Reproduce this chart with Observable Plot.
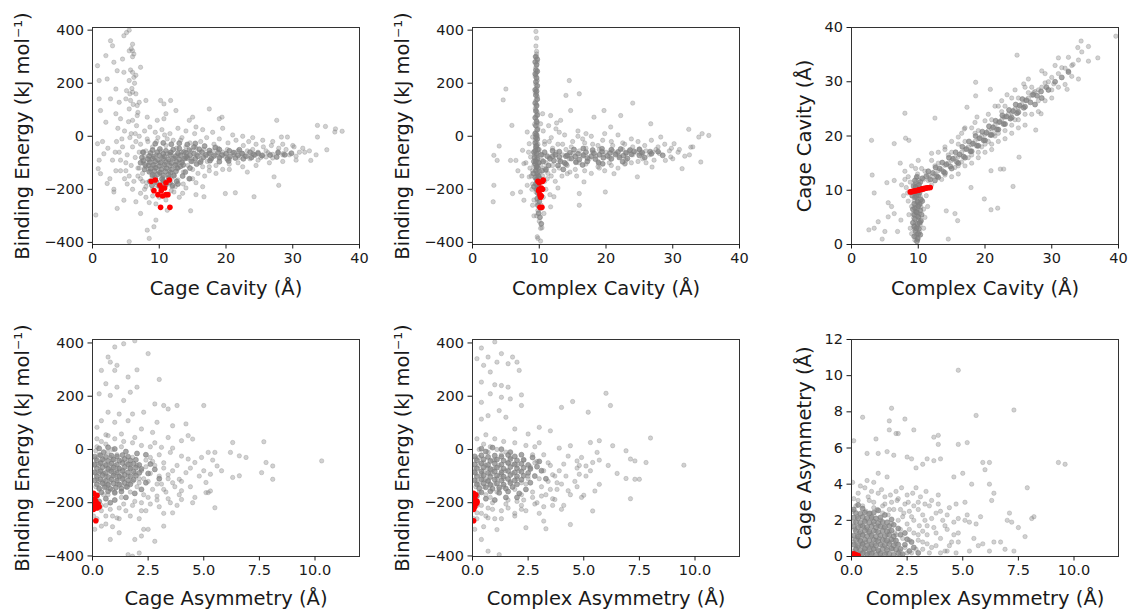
<!DOCTYPE html>
<html>
<head>
<meta charset="utf-8">
<script src="https://cdn.jsdelivr.net/npm/d3@7"></script>
<script src="https://cdn.jsdelivr.net/npm/@observablehq/plot@0.6"></script>
<style>
  body { margin: 0; background: #fff; }
  #root { position: relative; width: 1129px; height: 610px; overflow: hidden; background: #fff; }
  #root svg { position: absolute; overflow: visible; }
</style>
</head>
<body>
<div id="root"></div>
<script>
// ---------- axis labels & ticks ----------
const energyLabel = "Binding Energy (kJ mol⁻¹)";
const cageCavityLabel = "Cage Cavity (Å)";
const complexCavityLabel = "Complex Cavity (Å)";
const cageAsymLabel = "Cage Asymmetry (Å)";
const complexAsymLabel = "Complex Asymmetry (Å)";
const energyTicks = [-400, -200, 0, 200, 400];
const cavityTicks = [0, 10, 20, 30, 40];
const asymTicks = [0, 2.5, 5, 7.5, 10];
const cageAsymTicks = [0, 2, 4, 6, 8, 10, 12];

// ---------- panel 1: cage cavity (x) vs binding energy (y) ----------
const cageCavityVsEnergy = [
[5.1,391],[5.5,400],[4.7,379],[2.7,360],[3.0,341],[6.0,347],[5.5,322],[6.0,322],[6.2,310],[2.0,304],[0.75,266],[7.2,260],[4.7,241],[6.0,241],[6.2,222],[5.5,210],[1.0,210],[2.2,216],[3.5,178],[5.1,172],[6.0,166],[6.5,160],[3.7,247],[3.2,279],[4.5,291],[1.0,141],[2.7,141],[5.0,141],[5.7,135],[4.0,128],[7.0,128],[8.0,135],[10.2,135],[11.7,135],[10.7,122],[12.5,97],[11.0,85],[6.7,116],[5.5,103],[3.5,85],[4.2,66],[6.0,60],[6.7,78],[8.2,72],[9.7,60],[10.7,66],[2.0,53],[1.2,97],[17.5,103],[19.4,72],[19.0,66],[15.0,72],[14.5,60],[27.6,60],[33.7,41],[34.9,37],[36.4,28],[37.4,19],[36.3,16],[33.7,-3],[35.1,-51],[32.7,-91],[29.2,-3],[28.3,-3],[0.75,-28],[1.7,-66],[0.85,-122],[1.2,-141],[0.5,-297],[2.2,-178],[3.2,-210],[3.7,-272],[4.7,-241],[6.5,-247],[7.2,-291],[8.2,-354],[8.5,-385],[5.5,-397],[9.2,-341],[9.5,-316],[11.2,-279],[14.7,-281],[16.7,-228],[19.9,-216],[21.4,-213],[24.2,-228],[27.9,-185],[27.2,-153],[23.2,-135],
[8.2,-10],[9.6,-20],[10.8,5],[12.1,-15],[13.4,-5],[14.6,-25],[15.3,10],[16.2,-20],[17.1,-5],[18.2,-30],[19.0,-10],[20.3,-25],[21.5,-15],[22.6,-35],[23.4,-20],[24.5,-30],[25.6,-40],[26.8,-35],[27.9,-45],[29.0,-50],[30.2,-40],[31.0,-60],[28.5,-70],[26.0,-55],[24.0,-50],
[9.0,-40],[10.2,-55],[11.0,-35],[11.8,-60],[12.6,-45],[13.3,-60],[14.0,-40],[14.8,-55],[15.5,-45],[16.0,-60],[16.7,-50],[17.4,-65],[18.0,-55],[18.8,-45],[19.5,-60],[20.2,-50],[21.0,-60],[21.8,-55],[22.5,-65],[23.2,-55],[24.0,-65],[24.8,-60],[25.5,-70],[26.3,-62],[27.0,-68],[27.8,-58],[28.6,-65],[29.5,-70],[30.5,-75],[31.8,-60],
[9.5,-70],[10.4,-80],[11.2,-65],[12.0,-85],[12.8,-70],[13.5,-90],[14.2,-75],[14.9,-85],[15.6,-70],[16.3,-90],[17.0,-75],[17.7,-85],[18.4,-70],[19.1,-80],[19.8,-75],[20.5,-85],[21.2,-70],[22.0,-80],[22.8,-75],[23.6,-85],[24.4,-72],[25.2,-80],[26.0,-78],[27.0,-82],[15.0,-95],[16.0,-100],[17.2,-95],[13.0,-100],[11.5,-95],[10.0,-100],[8.5,-90],[7.8,-75],[9.0,-110],
[8.0,-115],[8.7,-130],[9.4,-120],[10.1,-140],[10.8,-115],[11.5,-130],[12.2,-145],[12.9,-120],[13.6,-135],[14.3,-110],[15.0,-125],[15.8,-140],[16.5,-115],[17.5,-130],[18.5,-110],[19.5,-125],[20.5,-105],[9.2,-145],[10.5,-155],[11.8,-160],[12.5,-105],[7.5,-140],[7.0,-120],
[7.2,-160],[8.1,-175],[8.9,-150],[9.6,-185],[10.7,-170],[11.9,-190],[12.8,-165],[13.6,-180],[14.6,-160],[15.5,-175],[16.5,-190],[7.8,-200],[9.0,-200],[12.2,-210],[10.0,-230],[11.0,-240],[8.5,-250],[13.5,-215],[15.5,-220],[9.5,-255],
[1.5,-20],[2.3,-45],[3.0,-90],[3.5,-130],[4.0,-60],[4.4,-10],[5.0,-100],[5.5,-150],[6.0,-40],[6.4,-80],[6.8,-120],[7.2,-30],[7.5,-60],[4.8,20],[5.8,10],[3.8,30],[2.6,-160],[1.0,-90],[6.2,-170],[5.2,-180],[3.2,-200],[7.0,0],[7.6,-100],[8.0,-55],[8.3,-20],[6.6,40],[5.4,55],[4.2,-130],
[5.8,330],[6.0,300],[5.7,250],[6.3,200],[5.9,180],[6.5,230],[5.6,160],[6.1,120],[6.8,90]
];
const cageCavityVsEnergyHalo = [
[4.5,-40],[5.2,-70],[5.8,-110],[6.5,-20],[7.0,-60],[6.8,-150],[7.5,-170],[8.0,-190],[6.0,-200],[5.0,-130],[4.2,-90],[3.6,-20],[5.6,-5],[6.4,10],[7.8,20],[8.6,35],[9.4,15],[10.4,25],[11.6,10],[12.8,30],[14.0,20],[15.5,35],[16.5,25],[18.0,15],[19.5,30],[21.0,5],[22.5,0],[24.0,-5],[25.5,-15],[27.0,-20],[28.5,-30],[30.0,-35],[31.5,-45],[32.5,-55],[33.5,-70],[30.5,-90],[28.5,-95],[26.5,-100],[24.5,-110],[22.5,-115],[20.5,-125],[18.5,-140],[16.8,-150],[15.0,-160],[14.0,-195],[13.0,-230],[11.8,-205],[9.0,-225],[8.0,-230],[7.2,-215],[10.4,-180],[12.4,-190],[17.5,-115],[21.8,-100],[24.8,-90],[13.2,-15],[11.2,-10],[9.8,-5],[4.8,-160],[3.4,-60]
];
const cageCavityVsEnergyCore = [
[9.0,-52],[10.1,-48],[11.0,-55],[12.1,-50],[13.0,-46],
[8.7,-63],[9.7,-60],[10.6,-66],[11.7,-61],[12.8,-64],[13.7,-59],
[8.5,-74],[9.2,-77],[10.0,-72],[10.8,-76],[11.6,-70],[12.4,-75],[13.2,-72],[14.0,-78],
[8.3,-86],[9.0,-84],[9.8,-89],[10.6,-85],[11.4,-88],[12.2,-83],[13.0,-87],[13.8,-84],
[8.6,-98],[9.4,-95],[10.2,-100],[11.0,-97],[11.8,-101],[12.6,-96],[13.4,-99],
[8.4,-110],[9.2,-108],[10.0,-112],[10.8,-107],[11.6,-111],[12.4,-109],[13.2,-113],
[8.7,-122],[9.5,-119],[10.3,-124],[11.1,-121],[11.9,-125],[12.7,-120],
[8.5,-134],[9.3,-131],[10.1,-136],[10.9,-133],[11.7,-137],[12.5,-132],
[9.0,-146],[9.8,-143],[10.6,-148],[11.4,-145],[12.2,-149],
[9.4,-158],[10.4,-161],[11.4,-157],
[14.5,-52],[16.0,-49],[17.5,-54],[19.0,-50],[20.5,-55],[22.0,-51],
[14.0,-62],[15.2,-65],[16.4,-60],[17.6,-64],[18.8,-61],[20.0,-66],[21.2,-62],[22.4,-65],[23.6,-60],[24.8,-64],
[14.6,-72],[15.8,-75],[17.0,-70],[18.2,-74],[19.4,-71],[20.6,-76],[21.8,-72],[23.0,-75],[24.2,-70],[25.4,-73],[26.6,-71],
[14.2,-82],[15.4,-85],[16.6,-80],[17.8,-84],[19.0,-81],[20.2,-86],[21.4,-82],[22.6,-85],[23.8,-80],
[14.8,-94],[16.2,-97],[17.6,-92],[19.0,-96],[20.4,-93],
[15.2,-40],[16.8,-37],[18.4,-42],[13.6,-108],[14.6,-120],[15.6,-105],[13.9,-135],[7.6,-92],[7.9,-108],
[8.6,-170],[9.6,-173],[10.6,-168],[11.6,-175],[12.6,-170],[8.9,-185],[10.0,-188],[11.0,-183],[12.0,-186],[9.4,-28],[10.6,-25],[11.8,-30],[13.0,-26],[14.2,-31],[15.4,-27],[7.4,-80],[7.2,-100],[7.8,-125],[7.6,-60],[27.8,-62],[28.8,-70],[29.8,-64],[27.6,-78],[13.5,-150],[14.5,-160],[12.8,-180]
];
const cageCavityVsEnergySelected = [
[8.8,-170],[9.4,-165],[9.2,-205],[10.1,-185],[10.4,-195],[10.8,-195],[9.8,-220],[10.5,-225],[11.0,-220],[11.3,-220],[11.0,-175],[11.5,-165],[10.2,-268],[11.6,-268],[10.3,-205]
];

// ---------- panel 2: complex cavity (x) vs binding energy (y) ----------
const complexCavityVsEnergy = [
[9.5,395],[9.6,370],[9.5,340],[9.6,320],[9.4,300],[9.7,280],[9.5,260],[9.6,240],[9.4,225],[9.7,210],[9.5,195],[9.6,180],[9.4,165],[9.7,150],[9.5,135],[9.6,120],[9.4,105],[9.7,90],[9.5,75],[9.6,60],[9.3,45],[9.8,30],[9.5,15],[9.7,0],[9.4,-15],[9.8,-30],[9.5,-45],[9.9,-60],[9.6,-75],[9.4,-90],[10.0,-100],[9.7,-110],[9.5,-125],[10.1,-135],[9.8,-145],[9.6,-160],[10.2,-175],[9.9,-190],[9.5,-210],[10.0,-230],[9.7,-250],[10.3,-260],[9.8,-280],[9.6,-300],[10.0,-320],[10.4,-345],[9.8,-385],[10.2,-395],[9.6,-150],[9.7,-200],
[9.6,310],[9.5,230],[9.6,160],[9.5,100],[9.7,50],[9.6,-20],[9.8,-80],[9.6,-120],[10.2,-110],[10.4,-90],[10.0,-50],[9.3,-70],[9.2,-110],[9.0,-130],[8.8,-150],[9.0,-180],[9.2,-240],[10.5,-150],[10.8,-170],[11.0,-130],
[3.2,-72],[3.7,-91],[4.0,-37],[5.0,178],[4.6,137],[5.9,41],[5.7,-91],[6.5,-91],[3.2,-185],[3.1,-247],[7.5,-53],[7.7,-103],[8.2,16],[8.2,-185],[7.2,-210],[7.7,-241],[6.0,-216],[9.0,-3],[8.5,-28],[8.7,-78],[8.5,-153],
[14.5,210],[16.0,160],[14.7,97],[14.0,154],[19.7,97],[22.2,78],[24.0,125],[18.2,72],[20.7,35],[13.2,60],[11.7,78],[10.5,85],[10.2,47],[12.5,28],[26.7,47],[28.2,-3],[32.7,-41],[33.9,-3],[35.4,3],[34.4,10],[32.4,26],[30.2,-28],[29.7,-78],[31.4,-122],[34.2,-97],[28.9,-91],[24.7,-153],[21.2,-141],[19.9,-210],[16.0,-216],[16.0,-260],[11.7,-266],[12.2,-228],[10.7,-291],[10.2,-347],[9.7,-379],[14.2,-141],[16.7,-172],[22.9,-103],[26.9,-116],[25.2,-66],
[10.5,-70],[11.0,-100],[11.5,-80],[12.0,-110],[12.5,-60],[13.0,-90],[13.5,-70],[14.0,-50],[14.5,-85],[15.0,-65],[15.5,-95],[16.0,-55],[16.5,-75],[17.0,-45],[17.5,-85],[18.0,-60],[18.5,-75],[19.0,-50],[19.5,-70],[20.0,-60],[20.5,-80],[21.0,-55],[21.5,-65],[22.0,-75],[22.5,-50],[23.0,-65],[23.5,-55],[24.0,-70],[24.5,-60],[25.0,-50],[25.5,-65],[26.0,-55],[26.5,-70],[27.0,-60],[27.5,-50],[28.0,-65],[10.8,-120],[11.3,-140],[12.2,-130],[11.8,-150],[13.0,-120],[14.2,-110],[15.4,-125],[17.0,-105],[18.8,-95],[20.5,-100],[13.5,-30],[15.0,-20],[16.5,-10],[18.0,-30],[19.5,-15],[21.0,-35],[22.5,-25],[24.0,-40],[17.0,10],[15.8,0],[13.0,15],[11.5,-20],[12.0,-45],[16.0,-100],[19.0,-120],[23.0,-90],[25.5,-85],[29.5,-55],[31.0,-50],[32.5,-70],[30.0,-85]
];
const complexCavityVsEnergyHalo = [
[10.8,-20],[11.8,-5],[12.8,-30],[13.8,5],[14.8,-40],[15.8,20],[16.8,-25],[17.8,0],[18.8,-35],[19.8,10],[20.8,-20],[21.8,5],[22.8,-30],[23.8,-10],[24.8,-20],[25.8,-35],[26.8,-15],[27.8,-40],[28.8,-30],[29.8,-45],[30.8,-60],[31.8,-75],[33.0,-40],[11.2,-160],[12.4,-170],[13.4,-150],[14.6,-135],[15.6,-150],[16.8,-130],[17.8,-140],[18.8,-115],[19.8,-130],[20.8,-110],[21.8,-120],[22.8,-105],[23.8,-100],[24.8,-95],[26.0,-100],[27.2,-90],[11.0,-200],[11.6,-220],[12.8,-195],[8.6,-120],[8.4,-60],[8.0,-100],[7.4,-150],[6.8,-130],[8.9,-200],[9.0,-260],[9.2,-300],[10.6,-230],[10.8,-30],[10.6,20],[11.4,40],[12.6,50]
];
const complexCavityVsEnergyCore = [
[9.5,300],[9.7,290],[9.4,280],[9.6,270],[9.5,250],[9.7,245],[9.4,235],[9.6,220],[9.5,205],[9.7,190],[9.4,175],[9.6,170],[9.5,155],[9.7,140],[9.4,125],[9.6,115],[9.5,95],[9.7,80],[9.4,70],[9.6,55],[9.5,40],[9.7,25],[9.4,10],[9.6,5],[9.5,-5],[9.7,-10],[9.4,-25],[9.6,-35],[9.5,-40],[9.8,-50],[9.4,-55],[9.6,-65],[9.3,-80],[9.7,-85],[9.5,-95],[9.9,-100],[9.4,-105],[9.6,-115],[9.8,-120],[9.5,-130],[9.7,-140],[9.9,-150],[9.4,-155],[9.6,-165],[10.1,-160],[9.8,-170],[9.5,-180],[9.7,-185],[10.0,-195],[9.6,-200],[9.8,-215],[10.1,-220],[9.7,-235],[10.0,-245],[9.8,-260],[10.2,-270],[9.9,-290],[10.1,-305],[10.3,-330],
[10.8,-60],[11.6,-85],[12.4,-70],[13.2,-95],[14.0,-75],[10.6,-95],[11.4,-110],[12.2,-92],[13.0,-78],[13.8,-100],
[14.6,-62],[15.8,-66],[17.0,-60],[18.2,-64],[19.4,-58],[20.6,-63],[21.8,-59],[23.0,-62],[24.2,-57],[25.4,-61],[26.6,-58],
[14.2,-72],[15.4,-76],[16.6,-71],[17.8,-75],[19.0,-70],[20.2,-74],[21.4,-69],[22.6,-73],[23.8,-68],[25.0,-72],
[14.8,-84],[16.0,-88],[17.2,-82],[18.4,-86],[19.6,-81],[20.8,-85],[22.0,-80],[23.2,-84],
[15.2,-50],[16.6,-46],[18.0,-52],[19.4,-47],[20.8,-51],[22.2,-48],[23.6,-52],[25.0,-49],
[15.5,-98],[17.2,-95],[18.9,-100],[11.2,-75],[12.0,-55],[12.8,-110],[13.6,-125],[11.0,-125],
[9.2,-60],[9.2,-95],[9.1,-140],[9.2,-190],[10.3,-70],[10.4,-130],[14.0,-105],[16.5,-108],[19.5,-104],[22.5,-96],[25.8,-80],[26.8,-66],[27.8,-58],[28.5,-72],[12.0,-75],[13.0,-58]
];
const complexCavityVsEnergySelected = [
[9.8,-170],[10.6,-165],[10.5,-170],[10.0,-200],[10.3,-195],[10.5,-200],[10.1,-220],[10.3,-225],[10.2,-230],[10.1,-268],[10.4,-268],[9.9,-205],[10.0,-175]
];

// ---------- panel 3: complex cavity (x) vs cage cavity (y) ----------
const complexVsCageCavity = [
[3.0,19.2],[8.0,24.2],[12.5,23.3],[8.1,19.6],[6.4,18.6],[8.6,19.2],[7.3,15.0],[3.1,12.8],[3.4,9.5],[5.3,11.4],[6.4,11.8],[5.5,7.7],[6.0,7.0],[6.4,5.7],[5.5,5.1],[4.0,4.2],[2.6,2.7],[3.4,3.0],[4.6,1.0],[5.0,2.4],[6.9,2.4],[7.4,4.5],[14.5,1.0],[15.5,5.7],[15.9,4.4],[14.2,6.2],[19.9,8.4],[20.9,6.4],[21.9,6.7],[24.2,10.7],[17.9,10.5],[20.9,13.6],[22.3,13.9],[22.8,13.9],[25.1,16.1],[27.6,21.1],[18.6,27.4],[18.6,29.9],[24.8,34.9],[31.5,32.6],[33.9,36.3],[34.4,37.5],[35.5,33.8],[36.9,34.4],[39.6,38.4],[34.0,30.5],[32.3,28.6],[32.5,32.0],[33.2,33.2],[31.0,34.4],[30.3,29.6],[28.4,24.1],[27.3,28.0],[25.8,29.6],[23.3,27.6],[20.8,28.6],[22.8,23.5],[21.3,20.4],[18.8,23.5],[16.9,21.3],[17.3,25.3],
[9.5,0.8],[10.0,1.2],[9.7,1.8],[10.2,2.3],[9.4,2.8],[9.9,3.2],[10.3,3.6],[9.6,4.0],[10.0,4.5],[9.3,4.9],[9.8,5.3],[10.2,5.7],[9.5,6.1],[9.9,6.5],[10.4,6.9],[9.6,7.3],[10.0,7.7],[9.4,8.1],[9.8,8.5],[10.3,8.9],[9.6,9.3],[10.0,9.7],[9.5,10.1],[10.2,10.5],[9.8,10.9],[9.6,11.4],[10.1,11.8],[9.7,12.3],[9.9,13.0],[9.6,14.0],[10.0,15.5],[9.4,3.5],[9.8,2.0],[10.1,5.0],[9.7,6.8],[9.9,8.0],[10.4,4.2],[9.2,5.6],[9.6,1.4],[10.3,7.6],[9.9,9.9],[9.5,11.0],[8.8,11.5],[8.5,12.5],[8.2,10.5],[7.8,9.0],[8.5,8.0],[9.0,7.0],[10.8,12.0],[11.2,9.0],[10.8,6.5],[11.5,12.8],[8.0,12.0],[7.5,11.0],
[11.5,11.8],[12.0,12.5],[12.5,13.0],[13.0,13.6],[13.5,13.8],[14.0,14.6],[14.5,15.0],[15.0,15.5],[15.5,16.0],[16.0,16.2],[16.5,17.0],[17.0,17.5],[17.5,18.0],[18.0,18.4],[18.5,19.0],[19.0,19.5],[19.5,20.0],[20.0,20.3],[20.5,21.0],[21.0,21.3],[21.5,22.0],[22.0,22.5],[22.5,23.0],[23.0,23.5],[23.5,24.0],[24.0,24.3],[24.5,25.0],[25.0,25.2],[25.5,25.8],[26.0,26.5],[26.5,27.0],[27.0,27.5],[27.5,28.2],[28.0,28.5],[28.5,29.0],[29.0,29.8],[29.5,30.0],[30.0,30.8],[31.0,31.5],[32.0,32.5],[33.0,33.0],[34.0,34.0],
[13.0,15.0],[14.0,12.8],[15.0,17.0],[16.0,14.5],[17.0,19.0],[18.0,16.5],[19.0,21.0],[20.0,18.5],[21.0,23.0],[22.0,20.5],[23.0,25.5],[24.0,22.0],[25.0,27.0],[26.0,24.0],[27.0,29.0],[28.0,26.5],[29.0,31.5],[30.0,28.5],[12.5,14.5],[14.5,16.5],[16.5,15.2],[18.5,20.5],[20.5,19.0],[22.5,24.5],[24.5,23.0],[26.5,28.0],[15.5,14.2],[17.5,16.0],[19.5,18.0],[21.5,20.0],[11.0,13.5],[12.0,11.0],[13.5,12.0],[16.0,18.5],[18.0,21.5],[20.0,22.8],[22.0,25.5],[24.0,27.0],[26.0,29.0],[15.0,19.0],[17.0,21.5],[19.0,17.0],[21.0,18.5],[23.0,21.0],[25.0,23.0]
];
const complexVsCageCavityHalo = [
[8.6,5.5],[8.8,3.0],[8.4,9.5],[9.0,2.0],[10.8,3.0],[11.0,5.0],[10.9,10.2],[11.4,7.0],[8.0,13.5],[9.0,14.5],[10.5,14.0],[12.0,15.5],[13.0,17.0],[14.0,18.0],[15.0,12.5],[16.0,13.0],[17.0,14.5],[18.0,15.0],[19.0,16.0],[20.0,17.0],[21.0,17.5],[22.0,19.0],[23.0,19.5],[24.0,20.5],[25.0,21.5],[26.0,22.0],[27.0,24.0],[28.0,24.5],[29.0,26.5],[30.0,27.0],[31.0,29.0],[32.0,29.5],[33.0,31.0],[14.0,17.5],[16.5,20.5],[18.5,22.5],[20.5,24.0],[22.5,26.5],[24.5,28.5],[26.5,30.5],[28.5,32.0],[30.5,33.0],[32.5,34.5],[34.5,35.5],[35.5,36.5],[16.0,19.8],[12.0,16.8],[21.5,25.5]
];
const complexVsCageCavityCore = [
[9.4,1.5],[9.9,1.0],[10.3,1.8],[9.6,2.5],[10.1,2.9],[9.4,3.3],[9.9,3.8],[10.4,4.4],[9.5,4.7],[10.0,5.1],[9.4,5.5],[9.8,5.9],[10.3,6.3],[9.5,6.7],[10.0,7.1],[9.4,7.5],[9.9,7.9],[10.4,8.3],[9.5,8.7],[10.0,9.1],[9.4,9.5],[9.9,9.9],[10.4,10.2],[9.6,10.6],[10.1,11.0],[9.5,11.8],[10.3,11.5],[9.8,12.5],[10.6,12.2],[9.7,3.0],[10.2,4.0],[9.7,6.0],[10.2,7.4],[9.7,8.9],[10.2,9.6],[9.3,10.8],[9.1,9.0],[9.2,6.5],[9.2,4.0],[10.5,5.5],[10.6,8.0],[9.8,0.6],[10.0,2.0],
[11.2,12.6],[11.8,12.0],[12.2,13.2],[12.8,12.6],[13.2,14.0],[13.8,13.4],[14.2,14.8],[14.8,14.4],[15.2,15.8],[15.8,15.2],[16.2,16.6],[16.8,16.2],[17.2,17.6],[17.8,17.2],[18.2,18.6],[18.8,18.2],[19.2,19.6],[19.8,19.2],[20.2,20.6],[20.8,20.2],[21.2,21.6],[21.8,21.2],[22.2,22.6],[22.8,22.2],[23.2,23.6],[23.8,23.2],[24.2,24.6],[24.8,24.2],[25.2,25.6],[25.8,25.2],[26.2,26.6],[26.8,26.2],[27.2,27.6],[27.8,27.4],[28.4,28.2],[29.2,29.0],
[12.6,14.2],[13.6,15.1],[14.6,16.0],[15.6,17.0],[16.6,18.0],[17.6,19.0],[18.6,20.0],[19.6,20.8],[20.6,21.8],[21.6,22.8],[22.6,23.8],[23.6,24.8],[24.6,25.8],[25.6,26.8],
[13.0,12.4],[14.0,13.2],[15.0,14.0],[16.0,15.0],[17.0,16.0],[18.0,17.2],[19.0,18.2],[20.0,19.2],[21.0,20.2],[22.0,21.2],[23.0,22.2],[24.0,23.4],[25.0,24.4],[26.0,25.4],
[11.5,13.5],[12.5,11.8],[27.5,25.8],[28.5,27.0],[29.5,28.5],[30.5,30.0],[31.5,30.8],[32.5,31.8]
];
const complexVsCageCavitySelected = [
[8.8,9.7],[9.0,9.75],[9.2,9.8],[9.4,9.85],[9.6,9.9],[9.8,9.95],[9.9,10.0],[10.1,10.05],[10.2,10.1],[10.4,10.15],[10.5,10.2],[10.7,10.25],[10.8,10.3],[11.0,10.35],[11.2,10.4],[11.4,10.45],[11.6,10.45],[11.8,10.5]
];

// ---------- panel 4: cage asymmetry (x) vs binding energy (y) ----------
const cageAsymVsEnergy = [
[1.4,397],[1.0,385],[1.9,408],[2.5,360],[0.7,347],[0.8,328],[1.1,316],[1.0,297],[2.0,299],[0.4,297],[3.0,263],[1.6,272],[0.6,247],[1.1,234],[2.0,234],[0.3,209],[0.8,203],[1.7,215],[1.4,184],[2.8,171],[3.2,165],[3.8,165],[5.0,165],[0.7,140],[1.2,133],[1.8,133],[2.3,140],[3.4,152],[0.4,108],[1.0,102],[1.6,108],[2.2,77],[2.9,102],[3.6,89],[4.2,96],[0.2,83],[0.7,52],[1.3,58],[1.9,45],[2.7,64],[3.4,45],[4.0,33],[4.3,52],[4.5,39],[5.2,-11],[5.5,-11],[6.2,-11],[6.3,26],[6.6,-24],[6.9,-30],[7.7,29],[7.8,-49],[8.1,-62],[8.1,-112],[7.6,-87],[6.6,-99],[6.3,-105],[5.8,-80],[5.6,-62],[5.3,-93],[5.1,-124],[5.2,-162],[5.3,-156],[5.1,-162],[5.5,-219],[4.5,-200],[4.0,-188],[3.6,-238],[3.2,-288],[2.8,-345],[2.5,-300],[2.3,-300],[2.2,-325],[1.9,-338],[1.6,-395],[2.1,-389],[1.8,-401],[1.2,-313],[0.8,-338],[0.4,-288],[1.1,-257],[10.3,-43],[3.9,-112],[4.2,-87],[4.6,-49],[4.9,-30],[4.3,-36],[3.5,-11],[3.1,8],
[0.1,-60],[0.2,-110],[0.3,-20],[0.3,-150],[0.4,-80],[0.5,-40],[0.5,-130],[0.6,-100],[0.6,-60],[0.7,-10],[0.7,-170],[0.8,-80],[0.8,-120],[0.9,-40],[0.9,-150],[1.0,-90],[1.0,-60],[1.1,-20],[1.1,-130],[1.2,-100],[1.2,-70],[1.3,-180],[1.3,-40],[1.4,-110],[1.4,-80],[1.5,-140],[1.5,-50],[1.6,-100],[1.7,-70],[1.7,-160],[1.8,-120],[1.8,-30],[1.9,-90],[2.0,-140],[2.0,-60],[2.1,-110],[2.2,-80],[2.3,-170],[2.4,-40],[2.5,-120],[2.6,-90],[2.7,-150],[2.8,-60],[2.9,-190],[3.0,-100],[3.1,-130],[3.2,-70],[3.3,-160],[3.4,-110],[3.5,-200],[3.6,-80],[3.7,-140],[3.8,-60],[3.9,-170],[4.0,-120],[0.2,-200],[0.4,-230],[0.6,-210],[0.9,-250],[1.2,-220],[1.5,-230],[1.8,-210],[2.1,-260],[2.4,-230],[0.1,-170],[0.2,10],[0.4,30],[0.6,20],[0.9,0],[1.3,10],[0.3,-90],[0.5,-170],[0.7,-130],[0.8,-30],[1.0,-160],[0.4,-50],[0.6,-140],[1.1,-110],[0.5,-90],[0.7,-70],[0.9,-100],[1.1,-80],[0.3,-120],[0.8,-60],[1.3,-130],[1.6,-130],[2.2,-200],[2.6,-30],[2.9,-130],[3.2,-240],[0.05,-250],[0.1,-300],[0.6,-280],[0.9,-290]
];
const cageAsymVsEnergyHalo = [
[2.6,10],[3.0,-20],[3.2,-50],[3.4,-95],[3.6,-125],[3.2,-150],[2.9,-175],[2.6,-205],[2.2,-230],[1.7,-250],[1.2,-260],[0.6,-250],[0.2,-260],[0.2,40],[0.6,55],[1.0,40],[1.4,30],[1.8,25],[2.2,15],[2.8,25],[3.6,5],[4.0,-25],[4.4,-70],[4.8,-100],[4.4,-140],[4.0,-155],[3.8,-210],[3.0,-215],[2.5,-180],[2.3,-110],[2.7,-45],[1.9,-195],[1.4,-205],[0.8,-225],[0.4,-210],[3.4,-185],[4.6,-180],[5.0,-80],[5.4,-40],[0.3,-60],[0.5,-115],[0.9,-75],[1.3,-95],[1.7,-55],[2.1,-125],[2.4,-65],[0.15,-140],[0.15,-90],[0.15,-35],[0.15,-5]
];
const cageAsymVsEnergyCore = [
[0.1,-27],[0.35,-22],[0.6,-28],[0.85,-23],[1.1,-26],[1.35,-21],[1.6,-27],
[0.2,-41],[0.45,-37],[0.7,-43],[0.95,-38],[1.2,-42],[1.45,-36],[1.7,-41],[1.95,-39],
[0.1,-56],[0.35,-52],[0.6,-58],[0.85,-53],[1.1,-57],[1.35,-51],[1.6,-56],[1.85,-54],[2.1,-58],
[0.2,-71],[0.45,-67],[0.7,-73],[0.95,-68],[1.2,-72],[1.45,-66],[1.7,-71],[1.95,-69],[2.2,-73],
[0.1,-86],[0.35,-82],[0.6,-88],[0.85,-83],[1.1,-87],[1.35,-81],[1.6,-86],[1.85,-84],[2.1,-88],
[0.2,-101],[0.45,-97],[0.7,-103],[0.95,-98],[1.2,-102],[1.45,-96],[1.7,-101],[1.95,-99],
[0.1,-116],[0.35,-112],[0.6,-118],[0.85,-113],[1.1,-117],[1.35,-111],[1.6,-116],[1.85,-114],
[0.2,-131],[0.45,-127],[0.7,-133],[0.95,-128],[1.2,-132],[1.45,-126],[1.7,-131],
[0.3,-146],[0.55,-142],[0.8,-148],[1.05,-143],[1.3,-147],[1.55,-141],
[0.4,-161],[0.7,-157],[1.0,-163],[1.3,-158],
[0.3,4],[0.7,8],[1.0,2],
[2.4,-20],[2.6,-55],[2.5,-90],[2.4,-125],[2.2,-150],[1.9,-165],[0.2,-175],[0.6,-185],[1.0,-190],[1.5,-180],[0.5,-10],[1.5,-8],[2.0,-15],[2.8,-75],[3.0,-110],[0.3,-195],[0.8,-200]
];
const cageAsymVsEnergySelected = [
[0.05,-165],[0.2,-172],[0.1,-185],[0.15,-195],[0.05,-200],[0.25,-205],[0.1,-215],[0.2,-220],[0.3,-215],[0.05,-225],[0.15,-268]
];

// ---------- panel 5: complex asymmetry (x) vs binding energy (y) ----------
const complexAsymVsEnergy = [
[0.4,381],[0.2,341],[0.5,316],[0.7,347],[1.0,404],[1.3,360],[1.8,347],[1.6,322],[2.0,328],[2.1,297],[1.1,328],[0.8,291],[0.4,253],[1.0,243],[1.3,240],[1.6,234],[0.8,209],[0.4,177],[1.3,196],[1.7,190],[2.2,205],[2.2,165],[1.2,146],[1.5,121],[0.7,127],[0.4,114],[4.0,158],[4.5,180],[6.0,211],[6.2,165],[5.2,140],[3.0,83],[3.5,70],[2.5,58],[1.9,77],[8.0,43],[6.9,-5],[7.3,-43],[7.1,-36],[7.8,-49],[9.5,-59],[7.5,-112],[7.3,-112],[6.9,-109],[7.1,-185],[5.7,-131],[5.5,-156],[5.4,-231],[5.0,-172],[4.8,-93],[5.1,-62],[5.4,-49],[4.9,-30],[4.7,-43],[4.1,-55],[4.4,14],[5.3,26],[5.7,33],[6.3,14],[5.6,-11],[4.4,-282],[4.0,-225],[3.7,-188],[3.2,-269],[3.3,-298],[2.4,-294],[2.2,-225],[1.1,-301],[0.7,-257],[0.7,-382],[1.2,-395],[0.2,-238],[0.4,-338],
[0.1,-70],[0.2,-120],[0.3,-30],[0.3,-160],[0.4,-90],[0.5,-50],[0.5,-140],[0.6,-110],[0.7,-70],[0.7,-10],[0.8,-180],[0.9,-90],[1.0,-130],[1.0,-40],[1.1,-160],[1.2,-100],[1.2,-60],[1.3,-20],[1.4,-140],[1.4,-110],[1.5,-80],[1.6,-190],[1.6,-50],[1.7,-120],[1.8,-90],[1.9,-150],[2.0,-60],[2.0,-110],[2.1,-80],[2.2,-170],[2.3,-40],[2.4,-130],[2.5,-100],[2.6,-70],[2.7,-160],[2.8,-50],[2.9,-200],[3.0,-110],[3.1,-140],[3.2,-80],[3.3,-170],[3.4,-120],[3.5,-60],[3.6,-210],[3.7,-100],[3.8,-150],[3.9,-80],[4.0,-130],[4.2,-100],[4.4,-170],[4.6,-120],[4.8,-60],[0.2,-210],[0.4,-240],[0.7,-220],[1.0,-260],[1.3,-230],[1.6,-220],[1.9,-240],[2.2,-210],[0.1,-180],[0.3,0],[0.5,20],[0.8,10],[1.1,0],[1.5,-10],[0.4,-100],[0.6,-170],[0.8,-130],[0.9,-40],[1.1,-110],[0.5,-80],[0.7,-120],[1.2,-150],[0.6,-60],[0.8,-90],[1.0,-70],[1.3,-80],[0.3,-130],[0.9,-200],[1.7,-30],[2.3,-190],[2.7,-20],[3.0,-240],[0.05,-260],[0.1,-300],[0.5,-290]
];
const complexAsymVsEnergyHalo = [
[2.8,10],[3.2,-20],[3.4,-50],[3.6,-95],[3.8,-125],[3.5,-150],[3.1,-175],[2.8,-205],[2.4,-230],[1.9,-250],[1.3,-260],[0.6,-250],[0.2,-260],[0.2,40],[0.6,55],[1.0,40],[1.4,30],[1.9,25],[2.4,15],[3.0,25],[3.9,5],[4.3,-25],[4.7,-70],[5.1,-100],[4.7,-140],[4.3,-155],[4.1,-210],[3.2,-215],[2.7,-180],[2.5,-110],[2.9,-45],[2.0,-195],[1.5,-205],[0.9,-225],[0.4,-210],[3.6,-185],[4.9,-180],[5.3,-80],[5.7,-40],[0.3,-60],[0.5,-115],[0.9,-75],[1.3,-95],[1.8,-55],[2.2,-125],[2.6,-65],[0.15,-140],[0.15,-90],[0.15,-35],[6.1,-60],[6.5,-90]
];
const complexAsymVsEnergyCore = [
[0.1,-26],[0.4,-22],[0.7,-28],[1.0,-23],[1.3,-27],[1.6,-21],[1.9,-26],
[0.2,-41],[0.5,-37],[0.8,-43],[1.1,-38],[1.4,-42],[1.7,-36],[2.0,-41],[2.3,-39],
[0.1,-56],[0.4,-52],[0.7,-58],[1.0,-53],[1.3,-57],[1.6,-51],[1.9,-56],[2.2,-54],[2.5,-58],
[0.2,-71],[0.5,-67],[0.8,-73],[1.1,-68],[1.4,-72],[1.7,-66],[2.0,-71],[2.3,-69],[2.6,-73],
[0.1,-86],[0.4,-82],[0.7,-88],[1.0,-83],[1.3,-87],[1.6,-81],[1.9,-86],[2.2,-84],[2.5,-88],
[0.2,-101],[0.5,-97],[0.8,-103],[1.1,-98],[1.4,-102],[1.7,-96],[2.0,-101],[2.3,-99],
[0.1,-116],[0.4,-112],[0.7,-118],[1.0,-113],[1.3,-117],[1.6,-111],[1.9,-116],[2.2,-114],
[0.2,-131],[0.5,-127],[0.8,-133],[1.1,-128],[1.4,-132],[1.7,-126],[2.0,-131],
[0.3,-146],[0.6,-142],[0.9,-148],[1.2,-143],[1.5,-147],[1.8,-141],
[0.4,-161],[0.8,-157],[1.2,-163],[1.6,-158],
[0.4,3],[0.9,7],[1.3,1],
[2.7,-30],[2.9,-65],[2.8,-100],[2.6,-125],[2.4,-150],[2.1,-165],[0.2,-175],[0.6,-185],[1.0,-190],[1.5,-180],[0.6,-8],[1.7,-10],[2.2,-20],[3.1,-80],[3.3,-110],[3.0,-45],[2.0,-180]
];
const complexAsymVsEnergySelected = [
[0.05,-165],[0.15,-170],[0.1,-185],[0.2,-195],[0.05,-200],[0.15,-205],[0.1,-215],[0.05,-225],[0.2,-200],[0.05,-268],[0.1,-175]
];

// ---------- panel 6: complex asymmetry (x) vs cage asymmetry (y) ----------
const complexVsCageAsym = [
[4.8,10.3],[0.5,7.7],[1.8,8.2],[1.7,7.5],[1.7,7.0],[2.4,7.6],[2.0,6.8],[2.1,6.8],[2.8,7.0],[5.6,7.8],[4.8,6.2],[5.2,6.3],[7.3,8.1],[3.7,6.6],[3.9,6.7],[3.9,6.2],[1.1,6.5],[0.1,6.4],[0.7,5.7],[1.2,5.7],[1.6,5.8],[1.9,5.6],[2.5,5.5],[2.7,5.4],[3.4,5.4],[3.7,5.3],[4.0,5.4],[3.2,5.1],[2.9,4.9],[5.9,5.2],[6.2,5.2],[6.0,4.8],[4.6,4.4],[5.0,4.6],[6.2,4.0],[5.4,4.0],[6.4,3.5],[6.3,3.1],[7.9,3.8],[9.3,5.2],[9.6,5.1],[7.1,2.4],[7.0,2.0],[7.5,1.6],[7.2,1.9],[8.1,2.1],[8.2,2.2],[7.8,1.1],[7.3,0.3],[6.9,0.4],[6.7,0.8],[6.4,0.8],[5.9,0.7],[5.7,0.6],[5.5,1.0],[5.3,1.9],[5.1,2.0],[4.7,2.9],[5.1,3.0],[4.8,1.3],[4.8,0.8],[4.3,0.3],[4.7,0.2],[5.6,1.8],[5.8,2.2],[5.2,2.3],[6.2,0.3],[5.3,0.3],
[0.05,0.3],[0.1,0.8],[0.15,1.5],[0.2,0.4],[0.25,2.2],[0.3,1.0],[0.35,0.2],[0.4,1.7],[0.45,0.6],[0.5,2.8],[0.5,1.2],[0.55,0.3],[0.6,2.0],[0.65,0.8],[0.7,1.5],[0.75,3.3],[0.8,0.5],[0.85,2.4],[0.9,1.1],[0.95,0.2],[1.0,1.8],[1.0,3.0],[1.05,0.7],[1.1,1.4],[1.15,2.6],[1.2,0.3],[1.25,1.0],[1.3,2.0],[1.35,3.7],[1.4,0.6],[1.45,1.6],[1.5,2.9],[1.55,0.2],[1.6,1.2],[1.65,2.3],[1.7,0.8],[1.75,3.4],[1.8,1.8],[1.85,0.4],[1.9,2.6],[1.95,1.3],[2.0,0.7],[2.05,3.1],[2.1,2.0],[2.15,0.3],[2.2,1.5],[2.25,3.8],[2.3,1.0],[2.35,2.4],[2.4,0.5],[2.5,1.8],[2.55,3.0],[2.6,0.9],[2.7,2.2],[2.75,3.5],[2.8,1.3],[2.9,0.4],[3.0,2.6],[3.05,1.7],[3.1,3.3],[3.2,0.8],[3.3,2.0],[3.35,3.6],[3.4,1.2],[3.5,2.8],[3.6,0.5],[3.7,1.6],[3.8,2.4],[3.9,3.4],[4.0,1.0],[4.1,2.0],[4.2,0.3],[4.3,1.5],[4.4,2.7],[4.5,0.8],[4.6,1.9],
[0.1,0.1],[0.2,0.6],[0.3,0.5],[0.4,0.9],[0.15,0.2],[0.25,1.1],[0.35,1.3],[0.45,0.1],[0.6,0.4],[0.7,0.1],[0.8,1.3],[0.9,0.6],[0.55,1.6],[0.65,2.5],[0.2,2.8],[0.1,1.9],[0.3,3.1],[0.05,4.1],[0.4,3.9],[0.7,4.2],[1.0,4.1],[1.2,4.6],[1.6,4.4],[1.1,0.9],[1.3,0.1],[1.5,0.9],[1.7,1.4],[1.9,0.9],[0.9,2.1],[1.2,1.7],[0.8,0.2],[1.4,2.4],[1.6,0.5],[2.0,1.2],[2.2,2.6],[2.5,0.2],[2.8,2.8],[3.0,0.9],[3.2,1.4],[3.5,0.2],[0.05,2.5],[0.0,1.0],[0.0,0.2],[0.5,0.7],[1.0,0.4]
];
const complexVsCageAsymHalo = [
[2.6,1.5],[2.8,2.0],[3.0,1.2],[3.2,2.3],[3.4,1.7],[3.6,2.1],[3.8,1.3],[4.0,2.5],[4.2,1.7],[4.4,0.6],[4.6,1.2],[4.8,2.1],[3.0,3.0],[3.3,2.9],[3.6,3.1],[2.6,2.5],[2.4,2.9],[2.1,3.2],[1.8,3.0],[1.5,3.3],[1.2,3.5],[0.9,3.6],[0.6,3.8],[0.3,3.5],[0.1,3.2],[2.0,3.6],[2.5,3.4],[2.9,3.8],[3.2,0.4],[3.4,0.7],[3.8,0.6],[4.0,0.2],[2.2,0.1],[2.7,0.2],[3.9,2.9],[4.3,2.3],[1.0,2.7],[1.4,2.8],[1.7,2.6],[2.3,2.2],[0.8,3.1]
];
const complexVsCageAsymCore = [
[0.1,0.15],[0.3,0.1],[0.5,0.18],[0.7,0.12],[0.9,0.16],[1.1,0.1],[1.3,0.17],[1.5,0.12],[1.7,0.15],[1.9,0.1],[2.1,0.18],[2.3,0.13],
[0.2,0.4],[0.4,0.36],[0.6,0.43],[0.8,0.38],[1.0,0.42],[1.2,0.35],[1.4,0.41],[1.6,0.37],[1.8,0.44],[2.0,0.39],[2.2,0.42],
[0.1,0.65],[0.3,0.62],[0.5,0.68],[0.7,0.63],[0.9,0.67],[1.1,0.61],[1.3,0.66],[1.5,0.64],[1.7,0.69],[1.9,0.62],[2.1,0.66],
[0.2,0.9],[0.4,0.87],[0.6,0.93],[0.8,0.88],[1.0,0.92],[1.2,0.86],[1.4,0.91],[1.6,0.89],[1.8,0.94],[2.0,0.88],
[0.1,1.15],[0.3,1.12],[0.5,1.18],[0.7,1.13],[0.9,1.17],[1.1,1.11],[1.3,1.16],[1.5,1.14],[1.7,1.19],[1.9,1.12],
[0.2,1.4],[0.4,1.37],[0.6,1.43],[0.8,1.38],[1.0,1.42],[1.2,1.36],[1.4,1.41],[1.6,1.39],[1.8,1.44],
[0.1,1.65],[0.3,1.62],[0.5,1.68],[0.7,1.63],[0.9,1.67],[1.1,1.61],[1.3,1.66],[1.5,1.64],[1.7,1.69],
[0.2,1.9],[0.4,1.87],[0.6,1.93],[0.8,1.88],[1.0,1.92],[1.2,1.86],[1.4,1.91],[1.6,1.89],
[0.1,2.15],[0.3,2.12],[0.5,2.18],[0.7,2.13],[0.9,2.17],[1.1,2.11],[1.3,2.16],
[0.2,2.4],[0.4,2.37],[0.6,2.43],[0.8,2.38],[1.0,2.42],
[2.4,0.65],[2.6,0.3],[2.8,0.5],[2.5,0.95],[2.2,1.2],[2.4,1.3],[2.1,1.55],[1.9,1.75],[1.8,2.05],[1.5,2.3],[1.2,2.55],[0.5,2.65],[0.1,2.6],[0.3,2.85],[2.7,0.8],[3.0,0.2]
];
const complexVsCageAsymSelected = [
[0.0,0.0],[0.05,0.1],[0.1,0.15],[0.15,0.05],[0.2,0.1],[0.25,0.05],[0.3,0.05],[0.1,0.0]
];

// ---------- drawing ----------
const MINUS = "\u2212";
const fmtInt = d => (d < 0 ? MINUS : "") + Math.abs(d).toFixed(0);
const fmt1 = d => (d < 0 ? MINUS : "") + Math.abs(d).toFixed(1);
const FONT = "DejaVu Sans";
const INK = "#1a1a1a";
const GREY = "#808080";
const TICK_FONT = 14.5;
const LABEL_FONT = 19.5;

function panel(cfg) {
  const svg = Plot.plot({
    width: cfg.width, height: cfg.height,
    marginLeft: cfg.mL, marginTop: cfg.mT, marginRight: cfg.mR, marginBottom: cfg.mB,
    style: { fontFamily: FONT, color: INK, background: "transparent", overflow: "visible" },
    x: { domain: cfg.xDomain },
    y: { domain: cfg.yDomain },
    marks: [
      Plot.dot(cfg.data.concat(cfg.halo), { x: d => d[0], y: d => d[1], r: 2.2, fill: GREY, fillOpacity: 0.36,
        stroke: GREY, strokeOpacity: 0.36, strokeWidth: 0.8, clip: true }),
      Plot.dot(cfg.core, { x: d => d[0], y: d => d[1], r: 2.5, fill: GREY, fillOpacity: 0.7,
        stroke: GREY, strokeOpacity: 0.7, strokeWidth: 0.8, clip: true }),
      Plot.dot(cfg.sel, { x: d => d[0], y: d => d[1], r: 2.8, fill: "#ff0000", clip: true }),
      Plot.frame({ stroke: "#333", strokeWidth: 1 }),
      // tick marks (labels drawn below as text marks)
      Plot.axisX({ ticks: cfg.xTicks, tickFormat: () => "", tickSize: 4.5, label: null }),
      Plot.axisY({ ticks: cfg.yTicks, tickFormat: () => "", tickSize: 4.5, label: null }),
      Plot.text(cfg.xTicks, { x: d => d, frameAnchor: "bottom", dy: 8.5, lineAnchor: "top", textAnchor: "middle",
        text: cfg.xFmt, fontSize: TICK_FONT, fill: INK }),
      Plot.text(cfg.yTicks, { y: d => d, frameAnchor: "left", dx: -8.5, lineAnchor: "middle", textAnchor: "end",
        text: cfg.yFmt, fontSize: TICK_FONT, fill: INK }),
      Plot.text([cfg.xLabel], { frameAnchor: "bottom", text: d => d, dy: cfg.xLabelDy, textAnchor: "middle", lineAnchor: "middle", fontSize: LABEL_FONT, fill: INK }),
      Plot.text([cfg.yLabel], { frameAnchor: "left", text: d => d, dx: cfg.yLabelDx, rotate: -90, textAnchor: "middle", lineAnchor: "middle", fontSize: LABEL_FONT, fill: INK })
    ]
  });
  svg.style.left = cfg.left + "px";
  svg.style.top = cfg.top + "px";
  document.getElementById("root").appendChild(svg);
}

const row1 = { top: 0, height: 305, mT: 27, mB: 61, yDomainE: [-408, 410], xLabelDy: 44 };
const row2 = { top: 312, height: 298, mT: 27, mB: 54, yDomainE: [-402, 413], xLabelDy: 42 };

panel({ data: cageCavityVsEnergy, halo: cageCavityVsEnergyHalo, core: cageCavityVsEnergyCore, sel: cageCavityVsEnergySelected, xLabel: cageCavityLabel, yLabel: energyLabel,
  xDomain: [0, 40], yDomain: row1.yDomainE, xTicks: cavityTicks, yTicks: energyTicks, xFmt: fmtInt, yFmt: fmtInt, xLabelDy: row1.xLabelDy,
  left: 0, top: row1.top, width: 380, height: row1.height, mL: 92, mT: row1.mT, mR: 21, mB: row1.mB, yLabelDx: -70 });

panel({ data: complexCavityVsEnergy, halo: complexCavityVsEnergyHalo, core: complexCavityVsEnergyCore, sel: complexCavityVsEnergySelected, xLabel: complexCavityLabel, yLabel: energyLabel,
  xDomain: [0, 40], yDomain: row1.yDomainE, xTicks: cavityTicks, yTicks: energyTicks, xFmt: fmtInt, yFmt: fmtInt, xLabelDy: row1.xLabelDy,
  left: 380, top: row1.top, width: 380, height: row1.height, mL: 92, mT: row1.mT, mR: 21, mB: row1.mB, yLabelDx: -70 });

panel({ data: complexVsCageCavity, halo: complexVsCageCavityHalo, core: complexVsCageCavityCore, sel: complexVsCageCavitySelected, xLabel: complexCavityLabel, yLabel: cageCavityLabel,
  xDomain: [0, 40], yDomain: [0, 40], xTicks: cavityTicks, yTicks: cavityTicks, xFmt: fmtInt, yFmt: fmtInt, xLabelDy: row1.xLabelDy,
  left: 759, top: row1.top, width: 370, height: row1.height, mL: 92, mT: row1.mT, mR: 11, mB: row1.mB, yLabelDx: -47 });

panel({ data: cageAsymVsEnergy, halo: cageAsymVsEnergyHalo, core: cageAsymVsEnergyCore, sel: cageAsymVsEnergySelected, xLabel: cageAsymLabel, yLabel: energyLabel,
  xDomain: [0, 12], yDomain: row2.yDomainE, xTicks: asymTicks, yTicks: energyTicks, xFmt: fmt1, yFmt: fmtInt, xLabelDy: row2.xLabelDy,
  left: 0, top: row2.top, width: 380, height: row2.height, mL: 92, mT: row2.mT, mR: 21, mB: row2.mB, yLabelDx: -70 });

panel({ data: complexAsymVsEnergy, halo: complexAsymVsEnergyHalo, core: complexAsymVsEnergyCore, sel: complexAsymVsEnergySelected, xLabel: complexAsymLabel, yLabel: energyLabel,
  xDomain: [0, 12], yDomain: row2.yDomainE, xTicks: asymTicks, yTicks: energyTicks, xFmt: fmt1, yFmt: fmtInt, xLabelDy: row2.xLabelDy,
  left: 380, top: row2.top, width: 380, height: row2.height, mL: 92, mT: row2.mT, mR: 21, mB: row2.mB, yLabelDx: -70 });

panel({ data: complexVsCageAsym, halo: complexVsCageAsymHalo, core: complexVsCageAsymCore, sel: complexVsCageAsymSelected, xLabel: complexAsymLabel, yLabel: cageAsymLabel,
  xDomain: [0, 12], yDomain: [0, 12], xTicks: asymTicks, yTicks: cageAsymTicks, xFmt: fmt1, yFmt: fmtInt, xLabelDy: row2.xLabelDy,
  left: 759, top: row2.top, width: 370, height: row2.height, mL: 92, mT: row2.mT, mR: 11, mB: row2.mB, yLabelDx: -47 });
</script>
</body>
</html>
